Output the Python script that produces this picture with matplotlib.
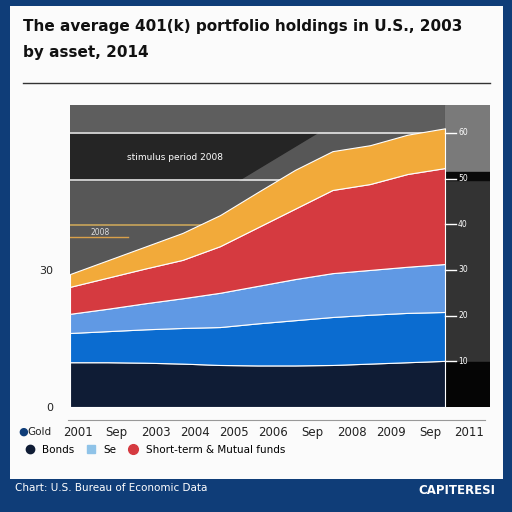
import matplotlib
matplotlib.use('Agg')
import matplotlib.pyplot as plt
from matplotlib.patches import Rectangle
from matplotlib.lines import Line2D
import numpy as np

# data
years = [2001, 2002, 2003, 2004, 2005, 2006, 2007, 2008, 2009, 2010, 2011]
bonds = [9.8, 9.8, 9.7, 9.5, 9.2, 9.1, 9.1, 9.2, 9.5, 9.8, 10.1]
equities = [6.4, 6.8, 7.3, 7.8, 8.3, 9.2, 9.9, 10.5, 10.7, 10.8, 10.7]
cash = [4.2, 4.9, 5.7, 6.5, 7.5, 8.2, 9.0, 9.6, 9.8, 10.1, 10.5]
stocks = [5.9, 6.8, 7.6, 8.4, 10.2, 12.8, 15.4, 18.2, 18.8, 20.3, 21.0]
other = [2.8, 3.8, 4.8, 5.9, 6.8, 7.7, 8.5, 8.5, 8.5, 8.6, 8.7]
series_names = ['Bonds', 'Equities', 'Cash', 'Stocks', 'Other']
tick_labels = ['2001', 'Sep', '2003', '2004', '2005', '2006', 'Sep', '2008', '2009', 'Sep', '2011']
right_ticks = [10, 20, 30, 40, 50, 60]

colors = ['#0f1c35', '#0b6cd0', '#6099e4', '#d53a40', '#f2aa3a']
navy = '#0f3d78'

fig = plt.figure(figsize=(5.12, 5.12), dpi=100, facecolor=navy)
# white panel
fig.add_artist(Rectangle((10/512, 1 - 479/512), 493/512, 473/512,
                         transform=fig.transFigure, facecolor='#fbfbfb', edgecolor='none', zorder=0))

fig.text(23/512, 1 - 26/512, 'The average 401(k) portfolio holdings in U.S., 2003',
         fontsize=11, fontweight='bold', va='center', ha='left', color='#111111')
fig.text(23/512, 1 - 53/512, 'by asset, 2014',
         fontsize=11, fontweight='bold', va='center', ha='left', color='#111111')
fig.add_artist(Line2D([23/512, 490/512], [1 - 83/512, 1 - 83/512], transform=fig.transFigure,
                      color='#333333', lw=1))

ax = fig.add_axes([70/512, 1 - 407/512, 420/512, 302/512])
ax.set_facecolor('#575757')
ax.set_xlim(2001, 2012.2)
ax.set_ylim(0, 66.1)

# background bands
ax.axhspan(60, 66.1, color='#5e5e5e', zorder=0)
ax.fill([2001, 2007.6, 2005.5, 2001], [60, 60, 49.6, 49.6], color='#252525', zorder=0.5)
ax.axvspan(2011, 2012.2, color='#333333', zorder=0.6)
ax.add_patch(Rectangle((2011, 51.5), 1.2, 14.6, color='#7a7a7a', zorder=0.7))
ax.add_patch(Rectangle((2011, 49.6), 1.2, 1.9, color='#0a0a0a', zorder=0.7))
ax.add_patch(Rectangle((2011, 0), 1.2, 9.8, color='#050505', zorder=0.7))

ax.plot([2001, 2011], [60, 60], color='#e6e6e6', lw=1.2, zorder=1)
ax.plot([2001, 2011], [49.6, 49.6], color='#e6e6e6', lw=1.2, zorder=1)
ax.plot([2001, 2005.3], [39.8, 39.8], color='#c9a45a', lw=1.2, zorder=1)
ax.plot([2005.3, 2011], [39.8, 39.8], color='#dddddd', lw=1.2, zorder=1)

ax.stackplot(years, bonds, equities, cash, stocks, other, colors=colors,
             edgecolor='white', linewidth=0.8, zorder=2, labels=series_names)

# right strip ticks
for v in right_ticks:
    ax.plot([2011, 2011.3], [v, v], color='white', lw=1, zorder=3)
    ax.text(2011.35, v, str(v), color='white', fontsize=5.5, va='center', ha='left', zorder=3)

ax.text(2003.8, 54.7, 'stimulus period 2008', color='white', fontsize=6.5, ha='center', va='center', zorder=3)
ax.text(2001.8, 38.3, '2008', color='#dddddd', fontsize=5.5, ha='center', va='center', zorder=3)
ax.plot([2001, 2002.55], [37.2, 37.2], color='#d9a04a', lw=1, zorder=3)

ax.set_yticks([0, 30])
ax.set_yticklabels(['0', '30'], fontsize=8)
ax.set_xticks([y + 0.2 + 0.045 * (y - 2001) for y in years])
ax.set_xticklabels(tick_labels, fontsize=8.5)
ax.tick_params(axis='x', length=0, pad=14, colors='#222222')
ax.tick_params(axis='y', length=0, pad=12, colors='#222222')
for s in ax.spines.values():
    s.set_visible(False)

fig.add_artist(Line2D([68/512, 485/512], [1 - 420/512, 1 - 420/512], transform=fig.transFigure,
                      color='#999999', lw=0.8))

# legend
fig.text(18/512, 1 - 432/512, '\u25cf', color='#0f3d78', fontsize=8, va='center')
fig.text(27/512, 1 - 432/512, 'Gold', color='#222222', fontsize=7.5, va='center')
handles = [Line2D([], [], marker='o', ls='', color=colors[0], markersize=6),
           Line2D([], [], marker='s', ls='', color='#8fc3e8', markersize=6),
           Line2D([], [], marker='o', ls='', color=colors[3], markersize=7)]
fig.legend(handles, ['Bonds', 'Se', 'Short-term & Mutual funds'], loc='center left',
           bbox_to_anchor=(15/512, 1 - 450/512), ncol=3, frameon=False, fontsize=7.5,
           handletextpad=0.2, columnspacing=0.6, borderaxespad=0)

fig.text(15/512, 1 - 488/512, 'Chart: U.S. Bureau of Economic Data', color='white', fontsize=7.5, va='center')
fig.text(495/512, 1 - 491/512, 'CAPITERESI', color='white', fontsize=8.5, fontweight='bold',
         va='center', ha='right')

fig.savefig('out.png', dpi=100, facecolor=navy)
